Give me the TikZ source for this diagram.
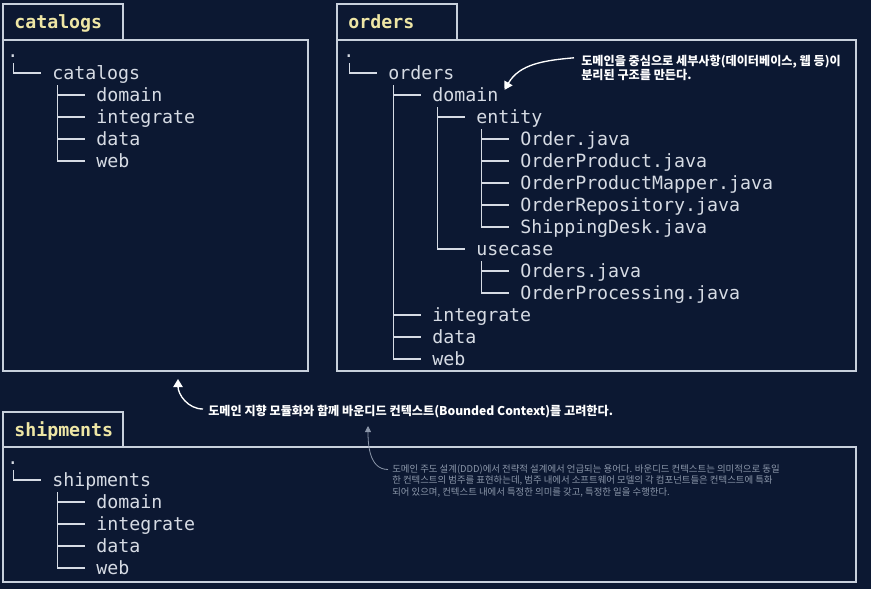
\documentclass[tikz,border=0pt]{standalone}
\usepackage{fontspec}
\setmonofont{DejaVu Sans Mono}
\newfontfamily\krfont{Noto Sans CJK KR}
\usetikzlibrary{calc,arrows.meta}

\definecolor{bgnavy}{RGB}{12,24,50}
\definecolor{framegray}{RGB}{200,208,220}
\definecolor{treegray}{RGB}{214,219,228}
\definecolor{tabyellow}{RGB}{238,230,165}
\definecolor{notegray}{RGB}{140,151,170}

\begin{document}
\begin{tikzpicture}[
  x=0.75pt, y=-0.75pt,
  frame/.style={draw=framegray, line width=1.8pt},
  entry/.style={anchor=base west, inner sep=0pt, text=treegray,
                font=\ttfamily\fontsize{13.7}{16}\selectfont},
  tabtitle/.style={entry, text=tabyellow,
                   font=\ttfamily\bfseries\fontsize{13.7}{16}\selectfont},
  branch/.style={draw=treegray, line width=1.1pt},
  note/.style={anchor=west, inner sep=0pt, align=left, text=white,
               font=\krfont\bfseries\fontsize{9.1}{10.8}\selectfont},
  smallnote/.style={note, text=notegray,
                    font=\krfont\fontsize{7.05}{8.6}\selectfont},
  pointer/.style={-{Triangle[width=7pt,length=6pt]}, draw=white, line width=1pt},
  thinpointer/.style={-{Triangle[width=4.5pt,length=4.5pt]}, draw=notegray, line width=0.6pt}
]
\fill[bgnavy] (0,0) rectangle (871,589);
\useasboundingbox (0,0) rectangle (871,589);

% frames
\draw[frame] (3,4) rectangle (123,40);
\draw[frame] (3,40) rectangle (308,371);
\draw[frame] (337,4) rectangle (457,40);
\draw[frame] (337,40) rectangle (856,371);
\draw[frame] (3,412) rectangle (123,447);
\draw[frame] (3,447) rectangle (856,582);

\node[tabtitle] (tcat) at (14,28) {catalogs};
\node[tabtitle] (tord) at (348,28) {orders};
\node[tabtitle] (tshp) at (14,436) {shipments};

% catalogs
\node[entry] (cdot) at (7,57) {.};
\node[entry] (cat)  at (52,79) {catalogs};
\node[entry] (cdom) at (96,101) {domain};
\node[entry] (cint) at (96,123) {integrate};
\node[entry] (cdat) at (96,145) {data};
\node[entry] (cweb) at (96,167) {web};

\draw[branch] ($(cdot.base west)+(6.5,6)$) |- ($(cat.base west)+(-11,-6)$);
\foreach \c in {cdom,cint,cdat,cweb}
  \draw[branch] ($(cat.base west)+(5.5,6)$) |- ($(\c.base west)+(-11,-6)$);

% orders
\node[entry] (odot) at (343,57) {.};
\node[entry] (ord)  at (388,79) {orders};
\node[entry] (odom) at (432,101) {domain};
\node[entry] (oent) at (476,123) {entity};
\node[entry] (oj1)  at (520,145) {Order.java};
\node[entry] (oj2)  at (520,167) {OrderProduct.java};
\node[entry] (oj3)  at (520,189) {OrderProductMapper.java};
\node[entry] (oj4)  at (520,211) {OrderRepository.java};
\node[entry] (oj5)  at (520,233) {ShippingDesk.java};
\node[entry] (ouse) at (476,255) {usecase};
\node[entry] (oj6)  at (520,277) {Orders.java};
\node[entry] (oj7)  at (520,299) {OrderProcessing.java};
\node[entry] (oint) at (432,321) {integrate};
\node[entry] (odat) at (432,343) {data};
\node[entry] (oweb) at (432,365) {web};

\draw[branch] ($(odot.base west)+(6.5,6)$) |- ($(ord.base west)+(-11,-6)$);
\foreach \c in {odom,oint,odat,oweb}
  \draw[branch] ($(ord.base west)+(5.5,6)$) |- ($(\c.base west)+(-11,-6)$);
\foreach \c in {oent,ouse}
  \draw[branch] ($(odom.base west)+(5.5,6)$) |- ($(\c.base west)+(-11,-6)$);
\foreach \c in {oj1,oj2,oj3,oj4,oj5}
  \draw[branch] ($(oent.base west)+(5.5,6)$) |- ($(\c.base west)+(-11,-6)$);
\foreach \c in {oj6,oj7}
  \draw[branch] ($(ouse.base west)+(5.5,6)$) |- ($(\c.base west)+(-11,-6)$);

% shipments
\node[entry] (sdot) at (7,464) {.};
\node[entry] (shp)  at (52,486) {shipments};
\node[entry] (sdom) at (96,508) {domain};
\node[entry] (sint) at (96,530) {integrate};
\node[entry] (sdat) at (96,552) {data};
\node[entry] (sweb) at (96,574) {web};

\draw[branch] ($(sdot.base west)+(6.5,6)$) |- ($(shp.base west)+(-11,-6)$);
\foreach \c in {sdom,sint,sdat,sweb}
  \draw[branch] ($(shp.base west)+(5.5,6)$) |- ($(\c.base west)+(-11,-6)$);

% notes
\node[note] (notedom) at (581,68)
  {도메인을 중심으로 세부사항(데이터베이스, 웹 등)이\\분리된 구조를 만든다.};
\node[note] (notebc) at (208,412)
  {도메인 지향 모듈화와 함께 바운디드 컨텍스트(Bounded Context)를 고려한다.};
\node[smallnote] (noteddd) at (392,481)
  {도메인 주도 설계(DDD)에서 전략적 설계에서 언급되는 용어다. 바운디드 컨텍스트는 의미적으로 동일\\
   한 컨텍스트의 범주를 표현하는데, 범주 내에서 소프트웨어 모델의 각 컴포넌트들은 컨텍스트에 특화\\
   되어 있으며, 컨텍스트 내에서 특정한 의미를 갖고, 특정한 일을 수행한다.};

\coordinate (cattip) at (178,379);
\coordinate (bctip) at (368,426);

\draw[pointer] ($(notedom.north west)+(-7,3)$) to[out=185,in=60] ($(odom.north east)+(6,3)$);
\draw[pointer] ($(notebc.west)+(-5,-3)$) to[out=180,in=-90] (cattip);
\draw[thinpointer] ($(noteddd.north west)+(-4,5)$) to[out=180,in=-90] (bctip);
\end{tikzpicture}
\end{document}
